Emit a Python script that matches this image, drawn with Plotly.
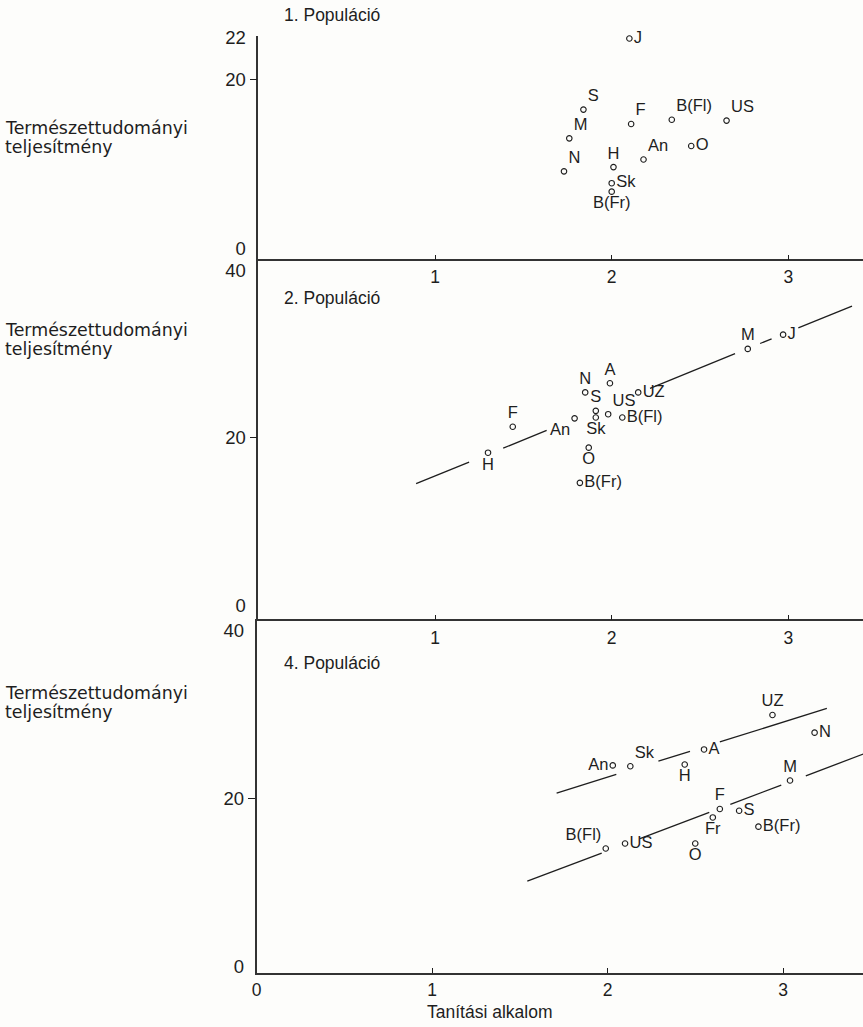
import plotly.graph_objects as go

# ---------------- data ----------------
# 1. Populáció
p1_names = ["J", "S", "F", "B(Fl)", "US", "M", "O", "An", "H", "N", "Sk", "B(Fr)"]
p1_x = [2.10, 1.84, 2.11, 2.34, 2.65, 1.76, 2.45, 2.18, 2.01, 1.73, 2.00, 2.00]
p1_y = [24.8, 16.4, 14.7, 15.2, 15.1, 13.0, 12.1, 10.5, 9.6, 9.1, 7.7, 6.7]

# 2. Populáció
p2_names = ["M", "J", "A", "N", "UZ", "S", "Sk", "US", "B(Fl)", "An", "F", "H", "O", "B(Fr)"]
p2_x = [2.77, 2.97, 1.99, 1.85, 2.15, 1.91, 1.91, 1.98, 2.06, 1.79, 1.44, 1.30, 1.87, 1.82]
p2_y = [30.6, 32.3, 26.5, 25.4, 25.4, 23.2, 22.4, 22.8, 22.4, 22.3, 21.3, 18.2, 18.8, 14.6]

# 4. Populáció
p3_names = ["UZ", "N", "A", "An", "Sk", "H", "M", "F", "Fr", "S", "B(Fr)", "B(Fl)", "US", "O"]
p3_x = [2.94, 3.18, 2.55, 2.03, 2.13, 2.44, 3.04, 2.64, 2.60, 2.75, 2.86, 1.99, 2.10, 2.50]
p3_y = [29.9, 27.8, 25.8, 23.9, 23.8, 24.0, 22.1, 18.7, 17.7, 18.5, 16.6, 14.0, 14.6, 14.6]

# regression lines: intercept, slope, drawn x-intervals (gaps around labels)
line2 = (6.82, 8.60, [(0.893, 1.193), (1.386, 1.632), (2.217, 2.698), (2.84, 2.905), (3.056, 3.36)])
line3_upper = (9.4, 6.55, [(1.71, 2.05), (2.29, 2.47), (2.64, 3.25)])
line3_lower = (-2.1, 7.91, [(1.543, 1.967), (2.185, 2.58), (2.70, 2.99), (3.13, 3.46)])

x_ticks = [1, 2, 3]
x_ticks_bottom = [0, 1, 2, 3]
y_text_lines = ["Természettudományi", "teljesítmény"]
x_title = "Tanítási alkalom"
panel_titles = ["1. Populáció", "2. Populáció", "4. Populáció"]

# ---------------- styles ----------------
p1_pos = ["middle right", "top right", "top right", "top right", "top right", "top right",
          "middle right", "top right", "top center", "top right", "middle right", "bottom center"]
p2_pos = ["top center", "middle right", "top center", "top center", "middle right", "top center",
          "bottom center", "top right", "middle right", "bottom left", "top center", "bottom center",
          "bottom center", "middle right"]
p3_pos = ["top center", "middle right", "middle right", "middle left", "top right", "bottom center",
          "top center", "top center", "bottom center", "middle right", "middle right", "top left",
          "middle right", "bottom center"]

INK = "#1e1e1e"
SANS = "Liberation Sans, Arial, Helvetica"
WIDE = "DejaVu Sans, Liberation Sans"
H = 1027
W = 863


def fy(py):
    return 1 - py / H


fig = go.Figure()


def ax_suffix(n):
    return "" if n == 1 else str(n)


def add_points(xs, ys, names, pos, n):
    fig.add_trace(go.Scatter(
        x=xs, y=ys, text=names, textposition=pos, mode="markers+text",
        marker=dict(symbol="circle-open", size=5.5, color=INK, line=dict(width=1.1, color=INK)),
        textfont=dict(family=SANS, size=16.5, color=INK),
        xaxis="x" + ax_suffix(n), yaxis="y" + ax_suffix(n),
        showlegend=False, hoverinfo="skip", cliponaxis=False))


def add_line(spec, n):
    a, b, segs = spec
    xs, ys = [], []
    for x0, x1 in segs:
        xs += [x0, x1, None]
        ys += [a + b * x0, a + b * x1, None]
    fig.add_trace(go.Scatter(
        x=xs, y=ys, mode="lines", line=dict(color=INK, width=1.3),
        xaxis="x" + ax_suffix(n), yaxis="y" + ax_suffix(n),
        showlegend=False, hoverinfo="skip", cliponaxis=False))


add_points(p1_x, p1_y, p1_names, p1_pos, 1)
add_line(line2, 2)
add_points(p2_x, p2_y, p2_names, p2_pos, 2)
add_line(line3_upper, 3)
add_line(line3_lower, 3)
add_points(p3_x, p3_y, p3_names, p3_pos, 3)

# pixel layout of the three panels (top, bottom of the plotting boxes)
boxes = [(36, 259.3), (259.3, 619.3), (619.3, 973)]
x_left = [258.3, 258.3, 256.5]
x_ranges = [[0, (W - 258.3) / 176.7], [0, (W - 258.3) / 176.7], [0, (W - 256.5) / 175.5]]
y_ranges = [[-1.3, 25.1], [-1.7, 41.3], [-0.83, 41.3]]
y_tickvals = [[0, 20, 24.9], [0, 20, 40], [0, 20, 40]]
y_ticktext = [["0", "20", "22"], ["0", "20", "40"], ["0", "20", "40"]]
x_standoff = [1, 2, 0]

axis_font = dict(family=SANS, size=18.5, color=INK)
for i in range(3):
    sfx = "" if i == 0 else str(i + 1)
    top, bot = boxes[i]
    xv = x_ticks_bottom if i == 2 else x_ticks
    fig.layout["xaxis" + sfx] = dict(
        domain=[x_left[i] / W, 1], range=x_ranges[i], anchor="y" + sfx,
        tickvals=xv, ticktext=[str(v) for v in xv], ticks="inside", ticklen=5,
        tickwidth=1, tickcolor=INK, showline=True, linecolor="#333", linewidth=1.5,
        showgrid=False, zeroline=False, tickfont=dict(family=SANS, size=17.5, color=INK),
        ticklabelstandoff=x_standoff[i], automargin=False, fixedrange=True)
    fig.layout["yaxis" + sfx] = dict(
        domain=[fy(bot), fy(top)], range=y_ranges[i], anchor="x" + sfx,
        tickvals=y_tickvals[i], ticktext=y_ticktext[i], ticks="outside", ticklen=7,
        tickcolor="rgba(0,0,0,0)", showline=True,
        linecolor="#333", linewidth=1.5, showgrid=False, zeroline=False, tickfont=axis_font,
        minor=dict(tickvals=[20], ticks="outside", ticklen=7, tickwidth=1, tickcolor=INK),
        automargin=False, fixedrange=True)

annotations = []
title_y = [15, 298, 663]
side_y = [128, 330, 693]
for i in range(3):
    annotations.append(dict(text=panel_titles[i], x=282 / W, y=fy(title_y[i]), xref="paper",
                            yref="paper", xanchor="left", yanchor="middle", showarrow=False,
                            font=dict(family=SANS, size=17.5, color=INK)))
    for j, txt in enumerate(y_text_lines):
        annotations.append(dict(text=txt, x=3 / W, y=fy(side_y[i] + 19 * j), xref="paper",
                                yref="paper", xanchor="left", yanchor="middle", align="left",
                                showarrow=False, font=dict(family=WIDE, size=17.4, color=INK)))
annotations.append(dict(text=x_title, x=490 / W, y=fy(1012), xref="paper", yref="paper",
                        xanchor="center", yanchor="middle", showarrow=False,
                        font=dict(family=SANS, size=17.5, color=INK)))

fig.update_layout(width=W, height=H, margin=dict(l=0, r=0, t=0, b=0),
                  paper_bgcolor="#fdfdfb", plot_bgcolor="#fdfdfb",
                  annotations=annotations, showlegend=False)

fig.write_html("out.html", config={"displayModeBar": False},
               post_script="document.body.style.margin='0';document.body.style.overflow='hidden';")
